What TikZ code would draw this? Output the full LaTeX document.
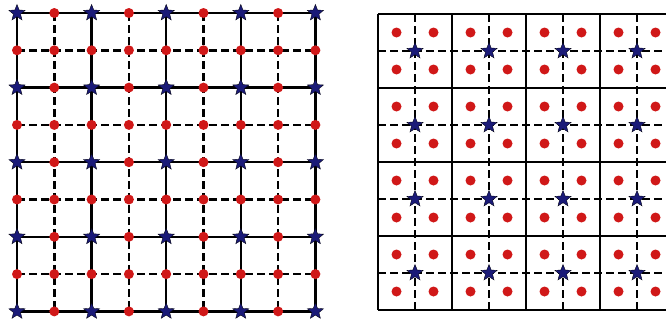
\documentclass[tikz,border=0pt]{standalone}
\usetikzlibrary{shapes.geometric}
\definecolor{dotred}{HTML}{D01818}
\definecolor{starblue}{HTML}{1A1A78}
\tikzset{
  solidline/.style={line width=2.4pt, black},
  dashline/.style={line width=2.4pt, black, dash pattern=on 7.5pt off 4.5pt},
  reddot/.style={circle, fill=dotred, inner sep=0pt, minimum size=10pt},
  bluestar/.style={star, star points=5, star point ratio=2.3, fill=starblue, draw=black!80!starblue, line width=0.4pt, inner sep=0pt, minimum size=17pt}
}
\begin{document}
\begin{tikzpicture}[x=1pt,y=-1pt]
\useasboundingbox (0,0) rectangle (666,324);
\clip (0,0) rectangle (666,324);
% ---------- left grid ----------
\def\lx{17}\def\ly{13}\def\ls{37.3}
\foreach \i in {0,...,8}{
  \pgfmathtruncatemacro{\prt}{mod(\i,2)}
  \ifnum\prt=0
    \draw[solidline] (\lx+\i*\ls,\ly) -- (\lx+\i*\ls,\ly+8*\ls);
    \draw[solidline] (\lx,\ly+\i*\ls) -- (\lx+8*\ls,\ly+\i*\ls);
  \else
    \draw[dashline] (\lx+\i*\ls,\ly) -- (\lx+\i*\ls,\ly+8*\ls);
    \draw[dashline] (\lx,\ly+\i*\ls) -- (\lx+8*\ls,\ly+\i*\ls);
  \fi
}
\foreach \i in {0,...,8}{
  \foreach \j in {0,...,8}{
    \pgfmathtruncatemacro{\st}{(mod(\i,2)==0 && mod(\j,2)==0) ? 1 : 0}
    \ifnum\st=1
      \node[bluestar] (L-\i-\j) at (\lx+\i*\ls,\ly+\j*\ls) {};
    \else
      \node[reddot] (L-\i-\j) at (\lx+\i*\ls,\ly+\j*\ls) {};
    \fi
  }
}
% ---------- right grid ----------
\def\rx{378}\def\ry{14}\def\rs{74}
\foreach \i in {0,...,3}{
  \draw[dashline] (\rx+\i*\rs+0.5*\rs,\ry) -- (\rx+\i*\rs+0.5*\rs,\ry+4*\rs);
  \draw[dashline] (\rx,\ry+\i*\rs+0.5*\rs) -- (\rx+4*\rs,\ry+\i*\rs+0.5*\rs);
}
\foreach \i in {0,...,4}{
  \draw[solidline] (\rx+\i*\rs,\ry) -- (\rx+\i*\rs,\ry+4*\rs);
  \draw[solidline] (\rx,\ry+\i*\rs) -- (\rx+4*\rs,\ry+\i*\rs);
}
\foreach \i in {0,...,3}{
  \foreach \j in {0,...,3}{
    \node[bluestar] (S-\i-\j) at (\rx+\i*\rs+0.5*\rs,\ry+\j*\rs+0.5*\rs) {};
    \foreach \a in {0.25,0.75}{
      \foreach \b in {0.25,0.75}{
        \node[reddot] at (\rx+\i*\rs+\a*\rs,\ry+\j*\rs+\b*\rs) {};
      }
    }
  }
}
\end{tikzpicture}
\end{document}
